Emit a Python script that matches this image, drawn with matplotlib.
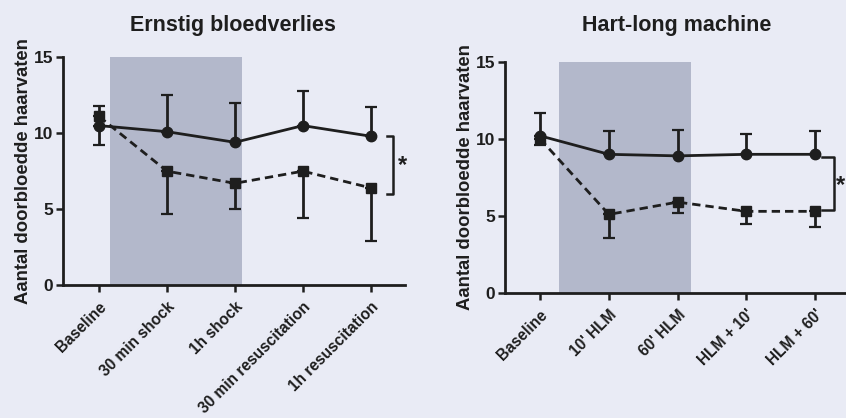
import matplotlib
matplotlib.use("Agg")
import matplotlib.pyplot as plt
import numpy as np

plt.rcParams["font.family"] = ["Liberation Sans", "DejaVu Sans"]
plt.rcParams["font.weight"] = "bold"

# left panel: ernstig bloedverlies
blood_labels = ["Baseline", "30 min shock", "1h shock", "30 min resuscitation", "1h resuscitation"]
blood_solid = [10.5, 10.1, 9.4, 10.5, 9.8]
blood_solid_top = [11.8, 12.5, 12.0, 12.8, 11.7]
blood_dashed = [11.1, 7.5, 6.7, 7.5, 6.4]
blood_dashed_bottom = [9.2, 4.7, 5.0, 4.4, 2.9]

# right panel: hart-long machine
hlm_labels = ["Baseline", "10' HLM", "60' HLM", "HLM + 10'", "HLM + 60'"]
hlm_solid = [10.2, 9.0, 8.9, 9.0, 9.0]
hlm_solid_top = [11.7, 10.5, 10.6, 10.3, 10.5]
hlm_dashed = [10.0, 5.1, 5.9, 5.3, 5.3]
hlm_dashed_bottom = [9.6, 3.6, 5.2, 4.5, 4.3]

BG = "#e9ebf5"
SHADE = "#b3b8cb"
INK = "#1e1e1e"


def draw_panel(ax, labels, solid, solid_top, dashed, dashed_bottom,
               shade, xlim, bracket, star):
    x = np.arange(len(labels))
    solid = np.asarray(solid)
    dashed = np.asarray(dashed)
    ax.axvspan(*shade, color=SHADE, zorder=0, lw=0)
    ax.errorbar(x, solid, yerr=[np.zeros_like(solid), np.asarray(solid_top) - solid],
                color=INK, lw=2.0, marker="o", ms=7.5, capsize=4,
                elinewidth=2.0, capthick=1.6, zorder=3)
    ax.errorbar(x, dashed, yerr=[dashed - np.asarray(dashed_bottom), np.zeros_like(dashed)],
                color=INK, lw=2.0, ls=(0, (3, 1.8)), marker="s", ms=7, capsize=4,
                elinewidth=2.0, capthick=1.6, zorder=3)
    # significance bracket
    bx0, bx1, by0, by1 = bracket
    ax.plot([bx0, bx1, bx1, bx0], [by0, by0, by1, by1], color=INK, lw=1.8,
            clip_on=False)
    ax.text(star[0], star[1], "*", fontsize=17, ha="center", va="center",
            color=INK, clip_on=False)

    ax.set_xlim(*xlim)
    ax.set_ylim(0, 15)
    ax.set_yticks([0, 5, 10, 15])
    ax.set_xticks(x)
    ax.set_xticklabels(labels, rotation=45, ha="right", va="top",
                       rotation_mode="anchor", fontsize=11.2)
    ax.tick_params(axis="both", width=1.8, length=5, color=INK, labelcolor=INK)
    ax.tick_params(axis="y", labelsize=12.5, pad=2)
    ax.tick_params(axis="x", pad=5)
    for side in ("top", "right"):
        ax.spines[side].set_visible(False)
    for side in ("left", "bottom"):
        ax.spines[side].set_linewidth(2.0)
        ax.spines[side].set_color(INK)
    ax.set_facecolor("none")
    ax.set_ylabel("Aantal doorbloedde haarvaten", fontsize=13.3,
                  fontweight="bold", color=INK, labelpad=1)


fig = plt.figure(figsize=(8.46, 4.18), dpi=100, facecolor=BG)
left = fig.add_axes([0.0745, 0.318, 0.404, 0.545])
right = fig.add_axes([0.597, 0.299, 0.403, 0.553])

draw_panel(left, blood_labels, blood_solid, blood_solid_top,
           blood_dashed, blood_dashed_bottom, shade=(0.16, 2.1),
           xlim=(-0.53, 4.5), bracket=(4.24, 4.32, 9.8, 6.0), star=(4.46, 7.9))
draw_panel(right, hlm_labels, hlm_solid, hlm_solid_top,
           hlm_dashed, hlm_dashed_bottom, shade=(0.28, 2.2),
           xlim=(-0.51, 4.45), bracket=(4.1, 4.27, 8.8, 5.4), star=(4.37, 7.0))

fig.text(233 / 846, 1 - 25 / 418, "Ernstig bloedverlies", fontsize=15.5,
         fontweight="bold", color=INK, ha="center", va="center")
fig.text(677 / 846, 1 - 25 / 418, "Hart-long machine", fontsize=15.5,
         fontweight="bold", color=INK, ha="center", va="center")

fig.savefig("out.png", dpi=100, facecolor=BG)
